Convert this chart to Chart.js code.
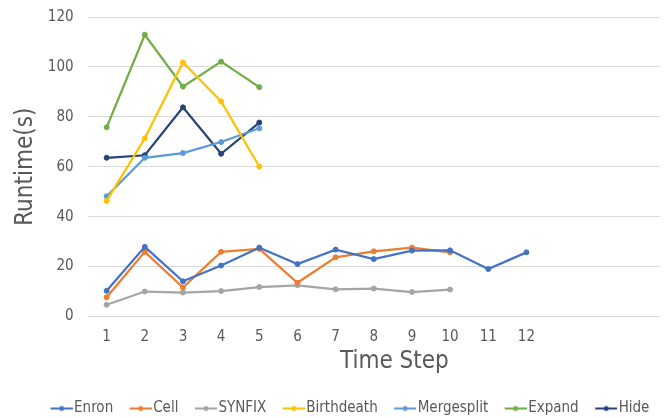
<!DOCTYPE html>
<html>
<head>
<meta charset="utf-8">
<script src="https://cdn.jsdelivr.net/npm/chart.js@4/dist/chart.umd.min.js"></script>
<style>
  html, body { margin: 0; padding: 0; background: #fff; }
  #wrap { width: 667px; height: 418px; }
</style>
</head>
<body>
<div id="wrap"><canvas id="runtimeChart" width="667" height="418"></canvas></div>
<script>
// time steps 1..12, plus three empty slots on the right
const steps = ['1', '2', '3', '4', '5', '6', '7', '8', '9', '10', '11', '12', '', '', ''];
const yTicks = [0, 20, 40, 60, 80, 100, 120];

const enron = [10.3, 27.9, 14.1, 20.4, 27.6, 21.0, 26.8, 23.0, 26.4, 26.5, 19.0, 25.7];
const cell = [7.7, 25.9, 11.6, 25.9, 27.1, 13.5, 23.7, 26.1, 27.6, 25.7];
const synfix = [4.7, 10.0, 9.6, 10.2, 11.8, 12.5, 10.9, 11.2, 9.8, 10.8];
const birthdeath = [46.3, 71.4, 101.8, 86.2, 60.1];
const mergesplit = [48.2, 63.6, 65.5, 69.9, 75.4];
const expand = [75.8, 112.9, 92.1, 102.1, 91.9];
const hide = [63.6, 64.6, 83.8, 65.2, 77.7];

const series = [
    { label: 'Enron', data: enron, color: '#4472C4' },
    { label: 'Cell', data: cell, color: '#ED7D31' },
    { label: 'SYNFIX', data: synfix, color: '#A5A5A5' },
    { label: 'Birthdeath', data: birthdeath, color: '#FFC000' },
    { label: 'Mergesplit', data: mergesplit, color: '#5B9BD5' },
    { label: 'Expand', data: expand, color: '#70AD47' },
    { label: 'Hide', data: hide, color: '#264478' }
];

const FONT = "'Liberation Sans Narrow', 'DejaVu Sans Condensed', sans-serif";
const GREY = '#595959';

// line-with-marker swatch; the image is centred on the legend box,
// so the stroke sits in its right part to butt up against the text
function swatch(color) {
    const c = document.createElement('canvas');
    c.width = 28; c.height = 8;
    const g = c.getContext('2d');
    g.strokeStyle = color;
    g.lineWidth = 2;
    g.beginPath(); g.moveTo(6, 4); g.lineTo(28, 4); g.stroke();
    g.fillStyle = color;
    g.beginPath(); g.arc(17, 4, 2.5, 0, Math.PI * 2); g.fill();
    return c;
}

// move the legend row a little right and down
const legendShift = {
    id: 'legendShift',
    afterLayout(chart) {
        const lg = chart.legend;
        if (!lg) return;
        lg.left += 20; lg.right += 20;
        lg.top += 8; lg.bottom += 8;
    }
};

new Chart(document.getElementById('runtimeChart'), {
    type: 'line',
    data: {
        labels: steps,
        datasets: series.map(s => ({
            label: s.label,
            data: s.data,
            borderColor: s.color,
            backgroundColor: s.color,
            pointBackgroundColor: s.color,
            pointBorderColor: s.color,
            borderWidth: 2.25,
            pointRadius: 2.5,
            pointBorderWidth: 1,
            tension: 0,
            fill: false
        }))
    },
    options: {
        responsive: false,
        animation: false,
        layout: { padding: { left: 0, right: 7, top: 0, bottom: 0 } },
        plugins: {
            legend: {
                position: 'bottom',
                labels: {
                    usePointStyle: true,
                    pointStyleWidth: 16,
                    padding: 16.5,
                    color: GREY,
                    font: { family: FONT, size: 15 },
                    generateLabels(chart) {
                        return chart.data.datasets.map((ds, i) => ({
                            text: ds.label,
                            pointStyle: swatch(ds.borderColor),
                            fillStyle: ds.borderColor,
                            strokeStyle: ds.borderColor,
                            lineWidth: 0,
                            hidden: false,
                            datasetIndex: i,
                            fontColor: GREY
                        }));
                    }
                }
            },
            tooltip: { enabled: false }
        },
        scales: {
            x: {
                offset: true,
                grid: { display: false },
                border: { display: false },
                ticks: {
                    color: GREY,
                    font: { family: FONT, size: 15, lineHeight: 1 },
                    maxRotation: 0,
                    autoSkip: false,
                    padding: 5
                },
                title: {
                    display: true,
                    // leading spaces push the title a bit right of centre
                    text: '      Time Step',
                    color: GREY,
                    font: { family: FONT, size: 24, lineHeight: 1 },
                    padding: { top: 0, bottom: 3 }
                }
            },
            y: {
                min: 0,
                max: 120,
                afterBuildTicks(axis) { axis.ticks = yTicks.map(v => ({ value: v })); },
                grid: { color: '#D9D9D9', lineWidth: 1, drawTicks: false },
                border: { display: false },
                ticks: {
                    color: GREY,
                    // small line height keeps the top gap tight
                    font: { family: FONT, size: 15, lineHeight: 0.4 },
                    padding: 14
                },
                title: {
                    display: true,
                    text: 'Runtime(s)',
                    color: GREY,
                    font: { family: FONT, size: 24 },
                    padding: { top: 11, bottom: -6 }
                }
            }
        }
    },
    plugins: [legendShift]
});
</script>
</body>
</html>
